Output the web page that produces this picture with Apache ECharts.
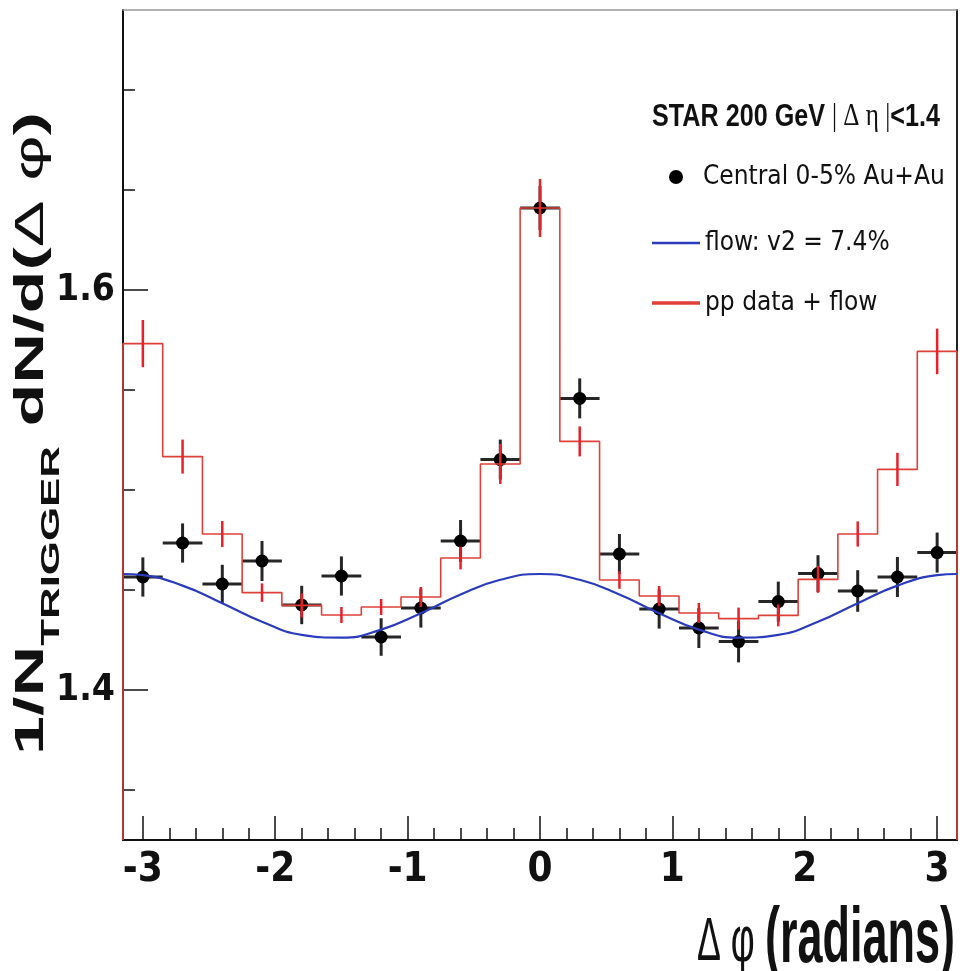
<!DOCTYPE html>
<html>
<head>
<meta charset="utf-8">
<script src="https://cdn.jsdelivr.net/npm/echarts@6/dist/echarts.min.js"></script>
<style>
html,body{margin:0;padding:0;background:#fff;overflow:hidden}
#chart{width:960px;height:971px}
</style>
</head>
<body>
<div id="chart"></div>
<script>
// ---------------- data ----------------
const phiBins = [-3.0,-2.7,-2.4,-2.1,-1.8,-1.5,-1.2,-0.9,-0.6,-0.3,0.0,0.3,0.6,0.9,1.2,1.5,1.8,2.1,2.4,2.7,3.0];
const auauValues = [1.4565,1.4735,1.4530,1.4645,1.4425,1.4570,1.4265,1.4410,1.4745,1.5152,1.6410,1.5458,1.4680,1.4405,1.4310,1.4242,1.4442,1.4582,1.4495,1.4565,1.4687];
const auauErrors = [0.0098,0.0098,0.0096,0.0100,0.0096,0.0098,0.0094,0.0098,0.0105,0.0100,0.0110,0.0100,0.0100,0.0098,0.0100,0.0104,0.0100,0.0092,0.0104,0.0100,0.0100];
const ppFlowValues = [1.5732,1.5167,1.4780,1.4487,1.4423,1.4375,1.4415,1.4465,1.4660,1.5130,1.6410,1.5243,1.4550,1.4470,1.4385,1.4357,1.4373,1.4553,1.4780,1.5103,1.5693];
const ppFlowErrors = [0.0118,0.0085,0.0065,0.0046,0.0060,0.0040,0.0040,0.0050,0.0057,0.0100,0.0145,0.0075,0.0044,0.0050,0.0050,0.0055,0.0055,0.0067,0.0063,0.0083,0.0114];
const binHalfWidth = 0.15;
const flowPhi = [-3.15,-3.0,-2.7,-2.4,-2.1,-1.8,-1.5,-1.2,-0.9,-0.6,-0.3,0.0,0.3,0.6,0.9,1.2,1.5,1.8,2.1,2.4,2.7,3.0,3.15];
const flowValues = [1.4580,1.4574,1.4522,1.4434,1.4341,1.4276,1.4262,1.4302,1.4384,1.4478,1.4551,1.4580,1.4551,1.4478,1.4384,1.4302,1.4262,1.4276,1.4341,1.4434,1.4522,1.4574,1.4580];
const xTickLabels = [-3,-2,-1,0,1,2,3];
const xMinorTicks = [-2.8,-2.6,-2.4,-2.2,-1.8,-1.6,-1.4,-1.2,-0.8,-0.6,-0.4,-0.2,0.2,0.4,0.6,0.8,1.2,1.4,1.6,1.8,2.2,2.4,2.6,2.8];
const yTickLabels = [1.4,1.6];
const yMinorTicks = [1.35,1.45,1.5,1.55,1.65,1.7];
const seriesNames = ['Central 0-5% Au+Au','flow: v2 = 7.4%','pp data + flow'];

// ---------------- axis ranges ----------------
const X_MIN = -3.15, X_MAX = 3.15, Y_MIN = 1.325, Y_MAX = 1.74;

const SANS = "'Liberation Sans', Arial, sans-serif";
const NARROW = "'Liberation Sans Narrow', 'DejaVu Sans Condensed', 'Liberation Sans', sans-serif";
const SERIF = "'Liberation Serif', 'DejaVu Serif', serif";

// histogram outline built from the bins
const histData = [[phiBins[0] - binHalfWidth, Y_MIN]];
phiBins.forEach((x, i) => {
  histData.push([x - binHalfWidth, ppFlowValues[i]]);
  histData.push([x + binHalfWidth, ppFlowValues[i]]);
});
histData.push([phiBins[phiBins.length - 1] + binHalfWidth, Y_MIN]);

function errorBars(color, width, withX) {
  return function (params, api) {
    const x = api.value(0), y = api.value(1), e = api.value(2);
    const lo = api.coord([x, y - e]), hi = api.coord([x, y + e]);
    const children = [{
      type: 'line', shape: {x1: lo[0], y1: lo[1], x2: hi[0], y2: hi[1]},
      style: {stroke: color, lineWidth: width}
    }];
    if (withX) {
      const l = api.coord([x - binHalfWidth, y]), r = api.coord([x + binHalfWidth, y]);
      children.push({type: 'line', shape: {x1: l[0], y1: l[1], x2: r[0], y2: r[1]},
        style: {stroke: color, lineWidth: width}});
    }
    return {type: 'group', children};
  };
}

// text runs (measured, then condensed/stretched like the reference)
const mctx = document.createElement('canvas').getContext('2d');
function textRun(pieces, o) {
  let x = 0;
  const children = [];
  pieces.forEach(p => {
    const font = (p.weight || 'normal') + ' ' + p.size + 'px ' + p.family;
    mctx.font = font;
    children.push({type: 'text', x: x, y: p.dy || 0,
      style: {text: p.text, font: font, fill: p.color || '#111',
        textAlign: 'left', textVerticalAlign: 'middle', align: 'left', verticalAlign: 'middle'}});
    x += mctx.measureText(p.text).width;
  });
  return {type: 'group', x: o.x, y: o.y, rotation: o.rotation || 0,
    scaleX: o.length / x, scaleY: o.scaleY || 1, children, silent: true};
}

const graphics = [
  // y-axis title
  textRun([
    {text: '1/N', size: 40, weight: 'bold', family: SANS},
    {text: 'TRIGGER', size: 25, weight: 'bold', family: SANS, dy: 20},
    {text: ' dN/d(', size: 40, weight: 'bold', family: SANS},
    {text: 'Δ', size: 40, family: SANS},
    {text: ' ', size: 40, weight: 'bold', family: SANS},
    {text: 'φ', size: 40, family: SANS},
    {text: ')', size: 40, weight: 'bold', family: SANS}
  ], {x: 32, y: 755, rotation: Math.PI / 2, length: 643}),
  // x-axis title
  textRun([
    {text: 'Δ ', size: 62, family: SANS, dy: 3},
    {text: 'φ ', size: 64, family: SANS, dy: 3},
    {text: '(radians)', size: 78, weight: 'bold', family: SANS}
  ], {x: 697, y: 940, length: 258}),
  // legend header
  textRun([
    {text: 'STAR 200 GeV ', size: 32, weight: 'bold', family: SANS},
    {text: '| Δ η |', size: 32, family: SERIF},
    {text: '<1.4', size: 32, weight: 'bold', family: SANS}
  ], {x: 652, y: 117, length: 288})
];

const legendText = {fontSize: 26, lineHeight: 28, fontFamily: NARROW, color: '#111'};

const option = {
  animation: false,
  backgroundColor: '#fff',
  grid: {left: 123, right: 3, top: 10, bottom: 131, containLabel: false},
  legend: [
    {orient: 'vertical', left: 669, top: 177 - 14, padding: 0, selectedMode: false,
      itemWidth: 14, itemHeight: 14, itemGap: 0,
      textStyle: Object.assign({padding: [0, 0, 0, 15]}, legendText),
      data: [{name: seriesNames[0], icon: 'circle'}]},
    {orient: 'vertical', left: 652, top: 243 - 14, padding: 0, selectedMode: false,
      itemWidth: 48, itemHeight: 2.5, itemGap: 0, textStyle: legendText,
      data: [{name: seriesNames[1], icon: 'rect'}]},
    {orient: 'vertical', left: 652, top: 303 - 14, padding: 0, selectedMode: false,
      itemWidth: 48, itemHeight: 3.5, itemGap: 0, textStyle: legendText,
      data: [{name: seriesNames[2], icon: 'rect'}]}
  ],
  xAxis: [
    {type: 'value', min: X_MIN, max: X_MAX, position: 'bottom',
      axisLine: {show: true, onZero: false, lineStyle: {color: '#111', width: 2}},
      axisTick: {show: true, inside: true, length: 24, customValues: xTickLabels, lineStyle: {color: '#111', width: 1.5}},
      axisLabel: {show: true, customValues: xTickLabels, margin: 11, fontSize: 40, fontWeight: 'bold',
        fontFamily: NARROW, color: '#111', formatter: v => String(v)},
      splitLine: {show: false}},
    {type: 'value', min: X_MIN, max: X_MAX, position: 'bottom',
      axisLine: {show: false, onZero: false},
      axisTick: {show: true, inside: true, length: 12, customValues: xMinorTicks, lineStyle: {color: '#111', width: 1.5}},
      axisLabel: {show: false}, splitLine: {show: false}},
    {type: 'value', min: X_MIN, max: X_MAX, position: 'top',
      axisLine: {show: true, onZero: false, lineStyle: {color: '#999', width: 1.5}},
      axisTick: {show: false}, axisLabel: {show: false}, splitLine: {show: false}}
  ],
  yAxis: [
    {type: 'value', min: Y_MIN, max: Y_MAX, position: 'left',
      axisLine: {show: true, onZero: false, lineStyle: {color: '#111', width: 2}},
      axisTick: {show: true, inside: true, length: 25, customValues: yTickLabels, lineStyle: {color: '#111', width: 1.5}},
      axisLabel: {show: true, customValues: yTickLabels, margin: 8, fontSize: 37, fontWeight: 'bold',
        fontFamily: NARROW, color: '#111', formatter: v => v.toFixed(1)},
      splitLine: {show: false}},
    {type: 'value', min: Y_MIN, max: Y_MAX, position: 'left',
      axisLine: {show: false, onZero: false},
      axisTick: {show: true, inside: true, length: 12, customValues: yMinorTicks, lineStyle: {color: '#111', width: 1.5}},
      axisLabel: {show: false}, splitLine: {show: false}},
    {type: 'value', min: Y_MIN, max: Y_MAX, position: 'right',
      axisLine: {show: true, onZero: false, lineStyle: {color: '#222', width: 2}},
      axisTick: {show: false}, axisLabel: {show: false}, splitLine: {show: false}}
  ],
  graphic: graphics,
  series: [
    {name: seriesNames[0], type: 'scatter', xAxisIndex: 0, yAxisIndex: 0, z: 3,
      symbol: 'circle', symbolSize: 13, itemStyle: {color: '#000', opacity: 1},
      data: phiBins.map((x, i) => [x, auauValues[i]])},
    {name: 'auau-errors', type: 'custom', xAxisIndex: 0, yAxisIndex: 0, z: 2,
      renderItem: errorBars('#262626', 3, true), encode: {x: 0, y: 1},
      data: phiBins.map((x, i) => [x, auauValues[i], auauErrors[i]])},
    {name: seriesNames[2], type: 'line', xAxisIndex: 0, yAxisIndex: 0, z: 4,
      symbol: 'none', showSymbol: false, lineStyle: {color: '#e0403a', width: 1.6}, itemStyle: {color: '#e0403a'},
      data: histData},
    {name: 'pp-errors', type: 'custom', xAxisIndex: 0, yAxisIndex: 0, z: 5,
      renderItem: errorBars('#e8202a', 2.5, false), encode: {x: 0, y: 1},
      data: phiBins.map((x, i) => [x, ppFlowValues[i], ppFlowErrors[i]])},
    {name: seriesNames[1], type: 'line', xAxisIndex: 0, yAxisIndex: 0, z: 6,
      smooth: true, symbol: 'none', showSymbol: false,
      lineStyle: {color: '#2a3bbb', width: 2.2}, itemStyle: {color: '#2a3bbb'},
      data: flowPhi.map((x, i) => [x, flowValues[i]])}
  ]
};

const chart = echarts.init(document.getElementById('chart'), null, {renderer: 'canvas', width: 960, height: 971});
chart.setOption(option);
</script>
</body>
</html>
